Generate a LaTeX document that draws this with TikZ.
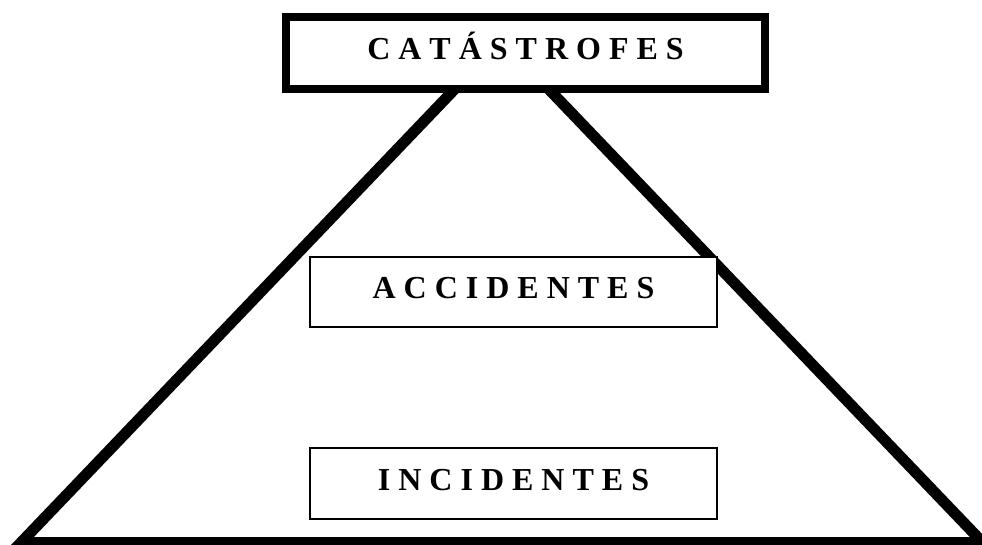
\documentclass[tikz,border=0pt]{standalone}
\usepackage{fontspec}
\setmainfont{Liberation Serif}
\usetikzlibrary{positioning}
\tikzstyle{pyramid} = [line width=8.25pt, line join=miter, draw=black]
\tikzstyle{topbox} = [rectangle, minimum width=359.25pt, minimum height=54pt, inner sep=0pt, text centered, text height=16pt, text depth=6pt, font=\fontsize{24}{24}\selectfont\bfseries, line width=6pt, draw=black, fill=white]
\tikzstyle{levelbox} = [rectangle, minimum width=305.25pt, minimum height=53pt, inner sep=0pt, text centered, text height=16pt, text depth=6pt, font=\fontsize{24}{24}\selectfont\bfseries, line width=1.5pt, draw=black, fill=white]

\begin{document}
\begin{tikzpicture}[x=0.75pt, y=-0.75pt]

    \useasboundingbox (0,0) rectangle (982,544);

    % pyramid outline
    \coordinate (apex) at (501.7,40);
    \coordinate (baseleft) at (21,542.5);
    \coordinate (baseright) at (982.7,542.5);
    \draw [pyramid] (apex) -- (baseleft) -- (baseright) -- cycle;

    \node (catas) [topbox] at (525.5,53) {C A T Á S T R O F E S};
    \node (accid) [levelbox] at (513.5,292) {A C C I D E N T E S};
    \node (incid) [levelbox, below=89.25pt of accid] {I N C I D E N T E S};

\end{tikzpicture}
\end{document}
